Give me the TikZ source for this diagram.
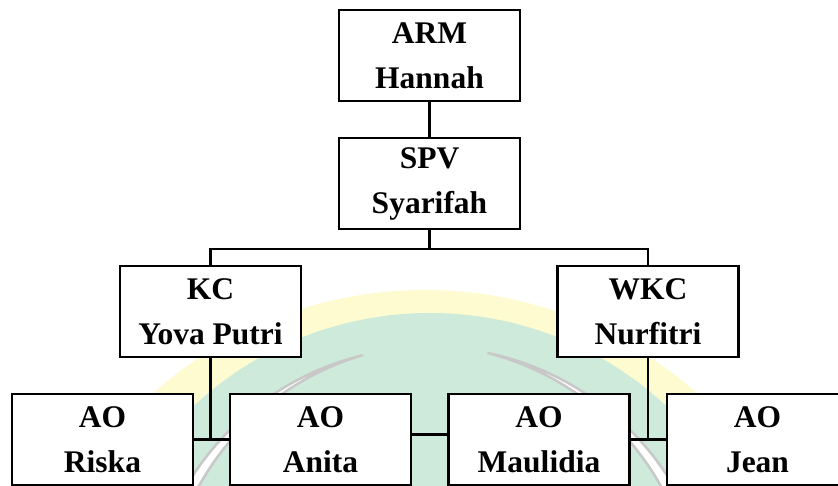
\documentclass[tikz,border=0pt]{standalone}
\usepackage{fontspec}
\setmainfont{Liberation Serif}
\usepackage{tikz}
\usetikzlibrary{arrows, arrows.meta, calc}
\usepackage{xcolor}
\definecolor{wmgreen}{RGB}{206,234,218}
\definecolor{wmyellow}{RGB}{255,251,208}
\definecolor{wmgrey}{RGB}{200,200,200}
\tikzstyle{post} = [rectangle, 
minimum width=181pt, 
minimum height=91pt, 
text centered, 
align=center, 
draw=black, 
line width=2.2pt, 
fill=white, 
font=\bfseries\fontsize{31.5}{45}\selectfont]
\tikzstyle{link} = [line width=2.2pt]

\begin{document}
\begin{tikzpicture}[node distance=128pt, x=1pt, y=-1pt]
\useasboundingbox (0,0) rectangle (838,485);

% watermark behind the chart
\begin{scope}
\clip (0,0) rectangle (838,485);
\fill [wmyellow] (425,700) circle [radius=410pt];
\fill [wmgreen] (430,660) circle [radius=347pt];
\begin{scope}[shift={(430,630)}]
\filldraw [fill=white, draw=wmgrey, line width=2.5pt]
  plot [domain=104:195, samples=40] (\x:283pt)
  -- plot [domain=195:104, samples=40] (\x:{(283-22*(\x-104)/91)*1pt}) -- cycle;
\filldraw [fill=white, draw=wmgrey, line width=2.5pt]
  plot [domain=78:-15, samples=40] (\x:283pt)
  -- plot [domain=-15:78, samples=40] (\x:{(283-22*(78-\x)/93)*1pt}) -- cycle;
\end{scope}
\end{scope}

\node (arm) [post] at (429.5,55.5) {ARM\\Hannah};
\node (spv) [post, below of=arm] {SPV\\Syarifah};
\node (kc) [post, below of=spv, xshift=-219pt] {KC\\Yova Putri};
\node (wkc) [post, below of=spv, xshift=218.5pt] {WKC\\Nurfitri};

\node (riska) [post, below of=kc, xshift=-108pt] {AO\\Riska};
\node (anita) [post, below of=kc, xshift=110pt] {AO\\Anita};
\node (maulidia) [post, below of=wkc, xshift=-109pt] {AO\\Maulidia};
\node (jean) [post, below of=wkc, xshift=109.5pt] {AO\\Jean};

\coordinate (split) at ($(spv.south)+(0,19)$);

\draw [link] (arm) -- (spv);
\draw [link] (spv) -- (split) -| (kc);
\draw [link] (split) -| (wkc);
\draw [link] (kc) -- (kc |- riska.east);
\draw [link] (riska) -- (anita);
\draw [link] ([yshift=5pt]anita.east) -- ([yshift=5pt]maulidia.west);
\draw [link] (wkc) -- (wkc |- maulidia.east);
\draw [link] (maulidia) -- (jean);

\end{tikzpicture}
\end{document}
